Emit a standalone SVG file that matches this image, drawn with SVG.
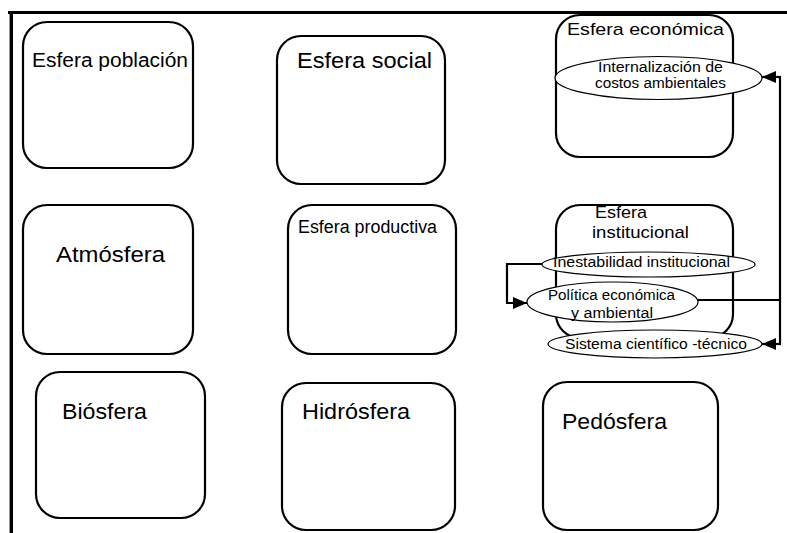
<svg xmlns="http://www.w3.org/2000/svg" width="787" height="533" viewBox="0 0 787 533">
<style>
.box{fill:#fff;stroke:#000;stroke-width:2.2}
.ell{fill:#fff;stroke:#000;stroke-width:1.2}
.t{font-family:"Liberation Sans",Arial,sans-serif;fill:#000}
.c{fill:none;stroke:#000;stroke-width:2.2}
</style>
<defs>
<marker id="ah" markerUnits="userSpaceOnUse" markerWidth="15" markerHeight="12" refX="14" refY="6" orient="auto">
<path d="M0,0 L14,6 L0,12 z" fill="#000"/>
</marker>
</defs>
<rect width="787" height="533" fill="#fff"/>
<g id="frame">
<line x1="8" y1="12.5" x2="787" y2="12.5" stroke="#000" stroke-width="3.2"/>
<line x1="11.3" y1="11" x2="11.3" y2="533" stroke="#000" stroke-width="3.4"/>
</g>
<g id="poblacion">
<rect class="box" x="23" y="22" width="170" height="146" rx="24"/>
<text class="t" x="32" y="67" font-size="19.5" textLength="156" lengthAdjust="spacingAndGlyphs">Esfera población</text>
</g>
<g id="social">
<rect class="box" x="277" y="36" width="168" height="148" rx="24"/>
<text class="t" x="297" y="68" font-size="22" textLength="135" lengthAdjust="spacingAndGlyphs">Esfera social</text>
</g>
<g id="economica">
<rect class="box" x="556" y="15" width="177" height="142" rx="24"/>
<text class="t" x="567" y="35" font-size="17" textLength="157" lengthAdjust="spacingAndGlyphs">Esfera económica</text>
<ellipse class="ell" cx="658.5" cy="78" rx="103.5" ry="21.5"/>
<text class="t" x="598" y="71.5" font-size="14" textLength="125" lengthAdjust="spacingAndGlyphs">Internalización de</text>
<text class="t" x="595" y="87.5" font-size="14" textLength="131" lengthAdjust="spacingAndGlyphs">costos ambientales</text>
</g>
<g id="atmosfera">
<rect class="box" x="23" y="205" width="170" height="149" rx="24"/>
<text class="t" x="56" y="262" font-size="22.5" textLength="109" lengthAdjust="spacingAndGlyphs">Atmósfera</text>
</g>
<g id="productiva">
<rect class="box" x="288" y="205" width="168" height="149" rx="24"/>
<text class="t" x="298" y="233" font-size="18" textLength="139" lengthAdjust="spacingAndGlyphs">Esfera productiva</text>
</g>
<g id="institucional">
<rect class="box" x="556" y="205" width="177" height="133" rx="24"/>
<text class="t" x="595" y="218" font-size="17" textLength="52" lengthAdjust="spacingAndGlyphs">Esfera</text>
<text class="t" x="592" y="238" font-size="17" textLength="97" lengthAdjust="spacingAndGlyphs">institucional</text>
</g>
<g id="inestabilidad">
<ellipse class="ell" cx="648.5" cy="264.5" rx="106.5" ry="12.5"/>
<text class="t" x="553" y="266.5" font-size="15.5" textLength="177" lengthAdjust="spacingAndGlyphs">Inestabilidad institucional</text>
</g>
<g id="politica">
<ellipse class="ell" cx="612.5" cy="302" rx="85.5" ry="20"/>
<text class="t" x="548" y="300" font-size="15.5" textLength="127" lengthAdjust="spacingAndGlyphs">Política económica</text>
<text class="t" x="571" y="318" font-size="15.5" textLength="82" lengthAdjust="spacingAndGlyphs">y ambiental</text>
</g>
<g id="sistema">
<ellipse class="ell" cx="655" cy="344" rx="107" ry="14"/>
<text class="t" x="565" y="349" font-size="15.5" textLength="182" lengthAdjust="spacingAndGlyphs">Sistema científico -técnico</text>
</g>
<g id="biosfera">
<rect class="box" x="36" y="372" width="169" height="146" rx="24"/>
<text class="t" x="62" y="419" font-size="22" textLength="85" lengthAdjust="spacingAndGlyphs">Biósfera</text>
</g>
<g id="hidrosfera">
<rect class="box" x="282" y="383" width="173" height="147" rx="24"/>
<text class="t" x="302" y="419" font-size="22" textLength="108" lengthAdjust="spacingAndGlyphs">Hidrósfera</text>
</g>
<g id="pedosfera">
<rect class="box" x="543" y="382" width="175" height="148" rx="24"/>
<text class="t" x="562" y="429" font-size="22" textLength="105" lengthAdjust="spacingAndGlyphs">Pedósfera</text>
</g>
<g id="connectors">
<path class="c" d="M542,264 H507 V303 H527" marker-end="url(#ah)"/>
<path class="c" d="M698,300 H780"/>
<path class="c" d="M780,77 V344"/>
<path class="c" d="M781,77 H762" marker-end="url(#ah)"/>
<path class="c" d="M781,344 H762" marker-end="url(#ah)"/>
</g>
</svg>
